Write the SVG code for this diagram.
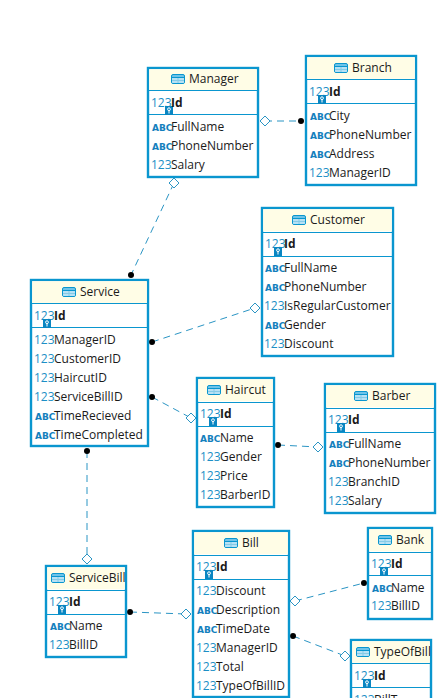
<svg xmlns="http://www.w3.org/2000/svg" width="446" height="698" viewBox="0 0 446 698">
<defs>
<style>
.box{fill:#fff;stroke:#0a96cf;stroke-width:2.4}
.hd{fill:#fffde6}
.ln{stroke:#0a96cf;stroke-width:1;fill:none}
text{font-family:"Open Sans","Noto Sans",sans-serif;font-size:12px;fill:#1a1a1a}
.t{text-anchor:middle}
.b{font-weight:700}
.n{fill:#1c8fc6;font-size:12px}
.a{fill:#1380bd;font-size:9px;font-weight:700;font-family:"DejaVu Sans",sans-serif}
.c{stroke:#2b95c4;stroke-width:1;stroke-dasharray:7 5;fill:none}
.d{fill:#fff;stroke:#2b95c4;stroke-width:1}
.o{fill:#000}
.ic{fill:#6ec3e8;stroke:#0a96cf;stroke-width:1}
.k{fill:#0a86c2}
</style>
<g id="tbl"><rect x="-6.5" y="-4.5" width="13" height="9" rx="1.5" class="ic"/><path d="M-6.5 -1.5H6.5M-6.5 1.5H6.5M0 -1.5V4.5" stroke="#0a96cf" fill="none"/><rect x="-6" y="-1" width="12" height="5" fill="#fff" opacity=".5"/></g>
<g id="key"><rect x="0" y="0" width="8" height="9" class="k"/><circle cx="4" cy="3.2" r="1.4" fill="none" stroke="#fff"/><path d="M4 4.6V7.5" stroke="#fff"/></g>
</defs>
<rect width="446" height="698" fill="#fff"/>
<g id="connectors">
<path class="c" d="M265 121H301"/><path class="c" d="M174 183L131 275"/><path class="c" d="M152 342L255 308"/><path class="c" d="M152 397L191 418"/><path class="c" d="M278 445L318 447"/><path class="c" d="M87 451L87 559"/><path class="c" d="M130 612L186 614"/><path class="c" d="M295 601L364 583"/><path class="c" d="M293 636L345 656"/>
<path class="d" d="M265 116L270 121L265 126L260 121Z"/><circle class="o" cx="301" cy="121" r="3"/>
<path class="d" d="M174 178L179 183L174 188L169 183Z"/><circle class="o" cx="131" cy="275" r="3"/>
<path class="d" d="M255 303L260 308L255 313L250 308Z"/><circle class="o" cx="152" cy="342" r="3"/>
<path class="d" d="M191 413L196 418L191 423L186 418Z"/><circle class="o" cx="152" cy="397" r="3"/>
<path class="d" d="M318 442L323 447L318 452L313 447Z"/><circle class="o" cx="278" cy="445" r="3"/>
<path class="d" d="M87 554L92 559L87 564L82 559Z"/><circle class="o" cx="87" cy="451" r="3"/>
<path class="d" d="M186 609L191 614L186 619L181 614Z"/><circle class="o" cx="130" cy="612" r="3"/>
<path class="d" d="M295 596L300 601L295 606L290 601Z"/><circle class="o" cx="364" cy="583" r="3"/>
<path class="d" d="M345 651L350 656L345 661L340 656Z"/><circle class="o" cx="293" cy="636" r="3"/>
</g>
<g id="Manager"><rect class="box" x="148" y="68" width="110" height="109"/><rect class="hd" x="149.200" y="69.200" width="107.600" height="21"/><path class="ln" d="M148 90.500H258M148 114.500H258"/><use href="#tbl" x="178" y="79"/><text x="189" y="83">Manager</text><text class="n" x="151" y="107">123</text><use href="#key" x="165" y="106"/><text class="b" x="171" y="107">Id</text><text class="a" x="152" y="131">ABC</text><text x="171" y="131">FullName</text><text class="a" x="152" y="150">ABC</text><text x="171" y="150">PhoneNumber</text><text class="n" x="151" y="169">123</text><text x="171" y="169">Salary</text></g>
<g id="Branch"><rect class="box" x="306" y="56" width="110" height="129"/><rect class="hd" x="307.200" y="57.200" width="107.600" height="21.500"/><path class="ln" d="M306 79.500H416M306 103.500H416"/><use href="#tbl" x="341" y="68"/><text x="352" y="72">Branch</text><text class="n" x="309" y="96">123</text><use href="#key" x="318" y="95"/><text class="b" x="329" y="96">Id</text><text class="a" x="310" y="120">ABC</text><text x="329" y="120">City</text><text class="a" x="310" y="139">ABC</text><text x="329" y="139">PhoneNumber</text><text class="a" x="310" y="158">ABC</text><text x="329" y="158">Address</text><text class="n" x="309" y="177">123</text><text x="329" y="177">ManagerID</text></g>
<g id="Customer"><rect class="box" x="262" y="208" width="131" height="148"/><rect class="hd" x="263.200" y="209.200" width="128.600" height="22"/><path class="ln" d="M262 232.500H393M262 256.500H393"/><use href="#tbl" x="299" y="220"/><text x="310" y="224">Customer</text><text class="n" x="265" y="248">123</text><use href="#key" x="274" y="247"/><text class="b" x="284" y="248">Id</text><text class="a" x="265" y="272">ABC</text><text x="284" y="272">FullName</text><text class="a" x="265" y="291">ABC</text><text x="284" y="291">PhoneNumber</text><text class="n" x="264" y="310">123</text><text x="284" y="310">IsRegularCustomer</text><text class="a" x="265" y="329">ABC</text><text x="284" y="329">Gender</text><text class="n" x="264" y="348">123</text><text x="284" y="348">Discount</text></g>
<g id="Service"><rect class="box" x="31" y="280" width="117" height="166"/><rect class="hd" x="32.200" y="281.200" width="114.600" height="22"/><path class="ln" d="M31 303.500H148M31 327.500H148"/><use href="#tbl" x="69" y="292"/><text x="80" y="296">Service</text><text class="n" x="34" y="320">123</text><use href="#key" x="43" y="319"/><text class="b" x="54" y="320">Id</text><text class="n" x="34" y="344">123</text><text x="54" y="344">ManagerID</text><text class="n" x="34" y="363">123</text><text x="54" y="363">CustomerID</text><text class="n" x="34" y="382">123</text><text x="54" y="382">HaircutID</text><text class="n" x="34" y="401">123</text><text x="54" y="401">ServiceBillID</text><text class="a" x="35" y="420">ABC</text><text x="54" y="420">TimeRecieved</text><text class="a" x="35" y="439">ABC</text><text x="54" y="439">TimeCompleted</text></g>
<g id="Haircut"><rect class="box" x="197" y="378" width="77" height="129"/><rect class="hd" x="198.200" y="379.200" width="74.600" height="22"/><path class="ln" d="M197 402.500H274M197 426.500H274"/><use href="#tbl" x="214" y="390"/><text x="225" y="394">Haircut</text><text class="n" x="200" y="418">123</text><use href="#key" x="209" y="417"/><text class="b" x="220" y="418">Id</text><text class="a" x="200" y="442">ABC</text><text x="220" y="442">Name</text><text class="n" x="200" y="461">123</text><text x="220" y="461">Gender</text><text class="n" x="200" y="480">123</text><text x="220" y="480">Price</text><text class="n" x="200" y="499">123</text><text x="220" y="499">BarberID</text></g>
<g id="Barber"><rect class="box" x="325" y="384" width="110" height="129"/><rect class="hd" x="326.200" y="385.200" width="107.600" height="22"/><path class="ln" d="M325 408.500H435M325 432.500H435"/><use href="#tbl" x="361" y="396"/><text x="372" y="400">Barber</text><text class="n" x="328" y="424">123</text><use href="#key" x="337" y="423"/><text class="b" x="348" y="424">Id</text><text class="a" x="329" y="448">ABC</text><text x="348" y="448">FullName</text><text class="a" x="329" y="467">ABC</text><text x="348" y="467">PhoneNumber</text><text class="n" x="328" y="486">123</text><text x="348" y="486">BranchID</text><text class="n" x="328" y="505">123</text><text x="348" y="505">Salary</text></g>
<g id="ServiceBill"><rect class="box" x="46" y="566" width="80" height="91"/><rect class="hd" x="47.200" y="567.200" width="77.600" height="22"/><path class="ln" d="M46 590.500H126M46 614.500H126"/><use href="#tbl" x="58" y="578"/><text x="69" y="582">ServiceBill</text><text class="n" x="49" y="606">123</text><use href="#key" x="58" y="605"/><text class="b" x="69" y="606">Id</text><text class="a" x="50" y="630">ABC</text><text x="69" y="630">Name</text><text class="n" x="49" y="649">123</text><text x="69" y="649">BillID</text></g>
<g id="Bill"><rect class="box" x="193" y="531" width="96" height="166"/><rect class="hd" x="194.200" y="532.200" width="93.600" height="22"/><path class="ln" d="M193 555.500H289M193 579.500H289"/><use href="#tbl" x="231" y="543"/><text x="242" y="547">Bill</text><text class="n" x="196" y="571">123</text><use href="#key" x="205" y="570"/><text class="b" x="216" y="571">Id</text><text class="n" x="196" y="595">123</text><text x="216" y="595">Discount</text><text class="a" x="197" y="614">ABC</text><text x="216" y="614">Description</text><text class="a" x="197" y="633">ABC</text><text x="216" y="633">TimeDate</text><text class="n" x="196" y="652">123</text><text x="216" y="652">ManagerID</text><text class="n" x="196" y="671">123</text><text x="216" y="671">Total</text><text class="n" x="196" y="690">123</text><text x="216" y="690">TypeOfBillID</text></g>
<g id="Bank"><rect class="box" x="368" y="528" width="64" height="91"/><rect class="hd" x="369.200" y="529.200" width="61.600" height="22"/><path class="ln" d="M368 552.500H432M368 575.500H432"/><use href="#tbl" x="385" y="540"/><text x="396" y="544">Bank</text><text class="n" x="371" y="568">123</text><use href="#key" x="380" y="567"/><text class="b" x="391" y="568">Id</text><text class="a" x="372" y="592">ABC</text><text x="391" y="592">Name</text><text class="n" x="371" y="610">123</text><text x="391" y="610">BillID</text></g>
<g id="TypeOfBill"><rect class="box" x="351" y="640" width="80" height="70"/><rect class="hd" x="352.200" y="641.200" width="77.600" height="21.500"/><path class="ln" d="M351 663.500H431M351 687.500H431"/><use href="#tbl" x="363" y="652"/><text x="374" y="656">TypeOfBill</text><text class="n" x="354" y="680">123</text><use href="#key" x="363" y="679"/><text class="b" x="374" y="680">Id</text><text class="n" x="354" y="704">123</text><text x="374" y="704">BillT</text></g>
</svg>
